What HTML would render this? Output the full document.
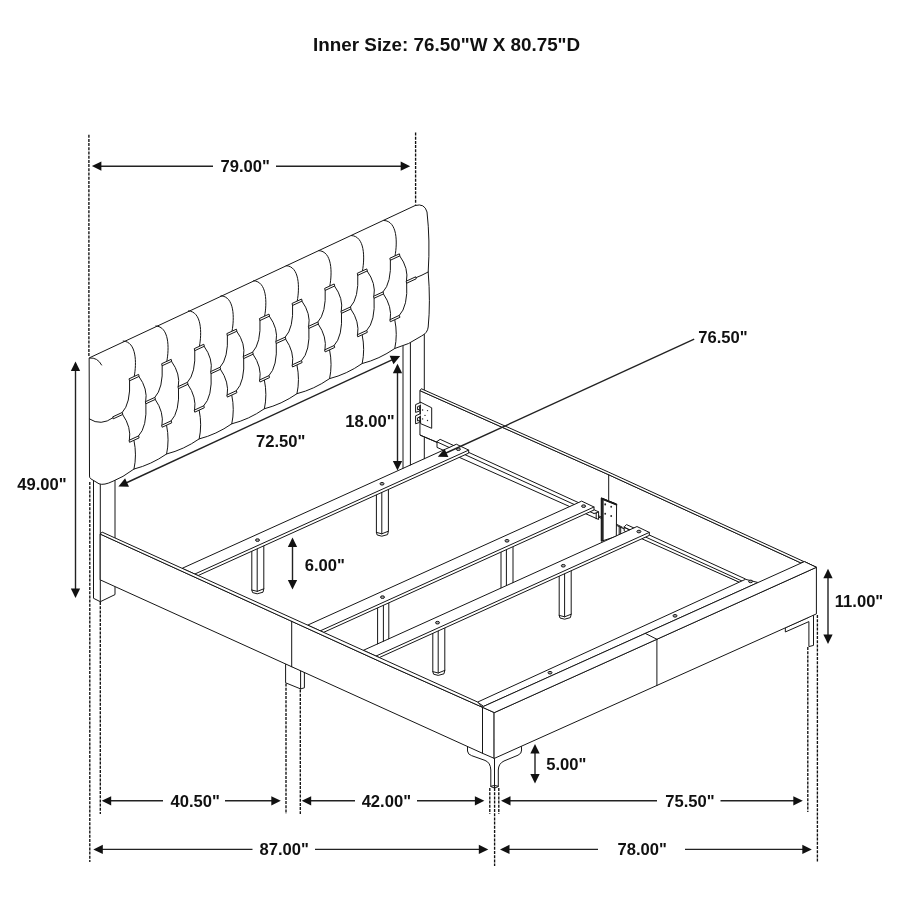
<!DOCTYPE html>
<html lang="en"><head><meta charset="utf-8"><title>Bed dimensions</title>
<style>html,body{margin:0;padding:0;background:#fff}body{width:900px;height:900px;overflow:hidden}svg{display:block;filter:grayscale(1)}text{font-family:"Liberation Sans",Arial,Helvetica,sans-serif;font-weight:700;fill:#111}</style></head><body>
<svg width="900" height="900" viewBox="0 0 900 900">
<rect width="900" height="900" fill="#fff"/>
<g stroke="#161616" stroke-width="1" stroke-linejoin="round" stroke-linecap="round">
<path d="M403 340 L403 470M410.4 338 L410.4 467M424.3 330 L424.3 460" fill="none"/>
<path d="M420.3 390.8 L608.7 474.75 L800.4 562.7 L800.4 590 L745.5 585.01 L440.5 444 L437 442.3 L420.3 435.2 Z" fill="#fff"/>
<path d="M421.7 388.9 L608.7 472.17 L816.4 567.3 L804.4 561.6 L800.4 562.7 L608.7 474.75 L420.3 390.8 Z" fill="#fff"/>
<path d="M608.7 474.75 L608.7 500" fill="none"/>
<path d="M440.5 439.5 L596.2 510.72 L598.6 511.82 L598.6 519.48 L437 447.4 L437 441.9 Z" fill="#fff"/>
<path d="M437 441.9 L593.9 513.46" fill="none"/>
<path d="M626.9 524.76 L745.5 579.01 L745.5 585.01 L624.2 530.9 L624.2 527.28 Z" fill="#fff"/>
<path d="M624.2 527.28 L742 581.01" fill="none"/>
<path d="M420.3 435.2 L437 442.3" fill="none"/>
<path d="M420.6 402.2 L431.7 407.8 L431.7 428.3 L421 423.8 Z" fill="#fff"/>
<path d="M420.6 402.4 L415.6 404.6 L415.6 412.4 L419.6 411 L419.6 409.2 L417.6 409.8 L417.6 406.6 L420.6 405.4" fill="#fff"/>
<path d="M420.6 413.6 L415.6 415.8 L415.6 423.8 L419.6 422.4 L419.6 420.4 L417.6 421 L417.6 417.8 L420.6 416.6" fill="#fff"/>
<path d="M251.8 544.53 L251.8 590 L252.6 592.6 L257.2 593.8 L263 592.2 L263.8 588.8 L263.8 544.53 Z" fill="#fff"/>
<path d="M257.2 544.53 L257.2 590.6M251.8 590 L257.2 591.4M257.2 591.4 L263.8 588.8" fill="none"/>
<path d="M376.4 488.15 L376.4 532.4 L377.2 535 L381.8 536.2 L387.6 534.6 L388.4 531.2 L388.4 488.15 Z" fill="#fff"/>
<path d="M381.8 488.15 L381.8 533M376.4 532.4 L381.8 533.8M381.8 533.8 L388.4 531.2" fill="none"/>
<path d="M456.7 444.4 L468.7 450.1 L468.7 453.1 L198.09 575.55 L194.77 574.05 L182.47 568.49 Z" fill="#fff"/>
<path d="M468.7 450.1 L194.77 574.05" fill="none"/>
<path d="M377.6 601.21 L377.6 648 L378.4 650.6 L383.4 651.8 L388 650.2 L388.8 646.8 L388.8 601.21 Z" fill="#fff"/>
<path d="M383.4 601.21 L383.4 648.6M377.6 648 L383.4 649.4M383.4 649.4 L388.8 646.8" fill="none"/>
<path d="M501 545.37 L501 591 L501.8 593.6 L506.4 594.8 L512.2 593.2 L513 589.8 L513 545.37 Z" fill="#fff"/>
<path d="M506.4 545.37 L506.4 591.6M501 591 L506.4 592.4M506.4 592.4 L513 589.8" fill="none"/>
<path d="M582 501.3 L594 507 L594 510 L323.61 632.35 L320.29 630.85 L308 625.29 Z" fill="#fff"/>
<path d="M594 507 L320.29 630.85" fill="none"/>
<path d="M602 498.3 L616.6 504.2 L616.3 536.4 L602 541 Z" fill="#fff"/>
<path d="M601.6 498.2 L603.1 498.8 L603.1 540.6 L601.6 541.1 Z" fill="#333"/>
<path d="M601.9 498.1 L616.7 504.1 L616.7 505.2 L601.9 499.2 Z" fill="#222"/>
<path d="M596.2 513.02 L598.6 511.82M596.2 513.02 L596.2 518.81M593.9 513.46 L596.2 513.02M598.6 515.8 L602 517.4" fill="none"/>
<path d="M616.4 524.2 L622.3 527.2M619.2 526.8 L619.2 534.6M620.7 527.4 L620.7 534M624.2 527.28 L629.4 529.88 L629.4 533.22" fill="none"/>
<path d="M432.8 626.65 L432.8 671.6 L433.6 674.2 L438.2 675.4 L444 673.8 L444.8 670.4 L444.8 626.65 Z" fill="#fff"/>
<path d="M438.2 626.65 L438.2 672.2M432.8 671.6 L438.2 673M438.2 673 L444.8 670.4" fill="none"/>
<path d="M559.2 569.46 L559.2 615.4 L560 618 L564.6 619.2 L570.4 617.6 L571.2 614.2 L571.2 569.46 Z" fill="#fff"/>
<path d="M564.6 569.46 L564.6 616M559.2 615.4 L564.6 616.8M564.6 616.8 L571.2 614.2" fill="none"/>
<path d="M637.3 526.7 L649.3 532.4 L649.3 535.4 L379.33 657.56 L376.01 656.06 L363.71 650.5 Z" fill="#fff"/>
<path d="M649.3 532.4 L376.01 656.06" fill="none"/>
<path d="M477.8 702 L745.5 579.3 L758 582.54 L484 706.2 Z" fill="#fff"/>
<path d="M93.5 470 L93.5 598.3 L100.3 601.7 L115 594.6 L115 470 Z" fill="#fff"/>
<path d="M100.3 470 L100.3 601.7" fill="none"/>
<path d="M285.6 663.98 L285.6 682.8 L300.6 688.9 L304.4 687.8 L304.4 672.51 Z" fill="#fff"/>
<path d="M300.6 670.79 L300.6 688.9" fill="none"/>
<path d="M467.5 740 L467.5 751 Q467.8 754.4 471.5 755.6 L485 760.4 Q490.6 762.6 490.8 770 L490.8 786.6 Q494.5 789.4 498.3 786.6 L498.3 770 Q498.5 763.5 504 761 L518 755.2 Q521.8 753.6 521.6 750 L521 740 Z" fill="#fff"/>
<path d="M494.5 758.4 L494.5 787.8M490.8 786.2 Q494.5 784.6 498.3 786.2" fill="none"/>
<path d="M785.7 627.6 L808.9 617.2 L808.9 616 L813.5 614.8 L813.5 645.4 L808.9 646.6 L808.9 621.6 L785.7 631.8 Z" fill="#fff"/>
<path d="M100.5 534.2 L390 666.1 L482.5 707.3 L494.3 712.6 L494.3 758.4 L482.5 753.3 L100.5 580 Z" fill="#fff"/>
<path d="M102.5 532.3 L477.6 702.03 L482.5 707.3 L390 666.1 L100.5 534.2 Z" fill="#fff"/>
<path d="M482.5 707.3 L482.5 753.3" fill="none"/>
<path d="M291.7 621.35 L291.7 666.75" fill="none"/>
<path d="M494.3 712.6 L816.4 567.3 L816.4 613.9 L494.3 758.4 Z" fill="#fff"/>
<path d="M484 706.2 L804.4 561.6 L816.4 567.3 L494.3 712.6 L482.5 707.3 Z" fill="#fff"/>
<path d="M645.3 633.4 L656.9 639.3M656.9 639.3 L656.9 685.54" fill="none"/>
<path d="M89.5 357.8 L415 205.6 Q424.5 202.8 427 212 Q430.2 240 428.2 272 Q430.6 302 428.2 327 Q427.6 333 421.5 336 Q409.15 344.73 394.8 348.46 Q379.3 359.2 362.2 363.53 Q346.7 374.27 329.6 378.6 Q314.1 389.34 297 393.67 Q281.5 404.41 264.4 408.74 Q248.9 419.48 231.8 423.81 Q216.3 434.55 199.2 438.89 Q183.7 449.62 166.6 453.96 Q151.1 464.69 134 469.03 Q122.5 477.6 113 481.2 Q104 485.6 99 483.8 L90.8 478.8 Q89.5 478 89.5 476.4 Z" fill="#fff"/>
<path d="M89.7 358 Q97.5 357.2 101.6 365" fill="none"/>
<path d="M134.3 376.03 C136.6 363.53 136.8 341.53 123.2 341.02" fill="none"/>
<path d="M129.6 380.65 Q130.75 403.55 122.3 412.44" fill="none"/>
<path d="M138.9 376.4 Q148.1 389.01 145.7 401.62" fill="none"/>
<path d="M166.9 360.96 C169.2 348.46 169.4 326.46 155.8 325.95" fill="none"/>
<path d="M162.2 365.58 Q163.35 388.47 154.9 397.37" fill="none"/>
<path d="M171.5 361.33 Q180.7 373.94 178.3 386.55" fill="none"/>
<path d="M199.5 345.89 C201.8 333.39 202 311.39 188.4 310.88" fill="none"/>
<path d="M194.8 350.51 Q195.95 373.4 187.5 382.29" fill="none"/>
<path d="M204.1 346.26 Q213.3 358.87 210.9 371.48" fill="none"/>
<path d="M232.1 330.81 C234.4 318.31 234.6 296.31 221 295.81" fill="none"/>
<path d="M227.4 335.44 Q228.55 358.33 220.1 367.22" fill="none"/>
<path d="M236.7 331.19 Q245.9 343.8 243.5 356.41" fill="none"/>
<path d="M264.7 315.74 C267 303.24 267.2 281.24 253.6 280.74" fill="none"/>
<path d="M260 320.37 Q261.15 343.26 252.7 352.15" fill="none"/>
<path d="M269.3 316.12 Q278.5 328.73 276.1 341.33" fill="none"/>
<path d="M297.3 300.67 C299.6 288.17 299.8 266.17 286.2 265.67" fill="none"/>
<path d="M292.6 305.3 Q293.75 328.19 285.3 337.08" fill="none"/>
<path d="M301.9 301.05 Q311.1 313.66 308.7 326.26" fill="none"/>
<path d="M329.9 285.6 C332.2 273.1 332.4 251.1 318.8 250.59" fill="none"/>
<path d="M325.2 290.23 Q326.35 313.12 317.9 322.01" fill="none"/>
<path d="M334.5 285.98 Q343.7 298.58 341.3 311.19" fill="none"/>
<path d="M362.5 270.53 C364.8 258.03 365 236.03 351.4 235.52" fill="none"/>
<path d="M357.8 275.16 Q358.95 298.05 350.5 306.94" fill="none"/>
<path d="M367.1 270.9 Q376.3 283.51 373.9 296.12" fill="none"/>
<path d="M395.1 255.46 C397.4 242.96 397.6 220.96 384 220.45" fill="none"/>
<path d="M390.4 260.09 Q391.55 282.98 383.1 291.87" fill="none"/>
<path d="M399.7 255.83 Q408.9 268.44 406.5 281.05" fill="none"/>
<path d="M122.6 414.44 Q131.6 427.3 129.4 440.15" fill="none"/>
<path d="M145.9 403.62 Q147.25 426.96 138.6 435.9" fill="none"/>
<path d="M134 440.53 Q137 455.03 134 469.03" fill="none"/>
<path d="M155.2 399.37 Q164.2 412.22 162 425.08" fill="none"/>
<path d="M178.5 388.55 Q179.85 411.89 171.2 420.83" fill="none"/>
<path d="M166.6 425.46 Q169.6 439.96 166.6 453.96" fill="none"/>
<path d="M187.8 384.29 Q196.8 397.15 194.6 410.01" fill="none"/>
<path d="M211.1 373.48 Q212.45 396.82 203.8 405.76" fill="none"/>
<path d="M199.2 410.39 Q202.2 424.89 199.2 438.89" fill="none"/>
<path d="M220.4 369.22 Q229.4 382.08 227.2 394.94" fill="none"/>
<path d="M243.7 358.41 Q245.05 381.75 236.4 390.69" fill="none"/>
<path d="M231.8 395.31 Q234.8 409.81 231.8 423.81" fill="none"/>
<path d="M253 354.15 Q262 367.01 259.8 379.87" fill="none"/>
<path d="M276.3 343.33 Q277.65 366.68 269 375.62" fill="none"/>
<path d="M264.4 380.24 Q267.4 394.74 264.4 408.74" fill="none"/>
<path d="M285.6 339.08 Q294.6 351.94 292.4 364.8" fill="none"/>
<path d="M308.9 328.26 Q310.25 351.61 301.6 360.55" fill="none"/>
<path d="M297 365.17 Q300 379.67 297 393.67" fill="none"/>
<path d="M318.2 324.01 Q327.2 336.87 325 349.73" fill="none"/>
<path d="M341.5 313.19 Q342.85 336.53 334.2 345.48" fill="none"/>
<path d="M329.6 350.1 Q332.6 364.6 329.6 378.6" fill="none"/>
<path d="M350.8 308.94 Q359.8 321.8 357.6 334.66" fill="none"/>
<path d="M374.1 298.12 Q375.45 321.46 366.8 330.4" fill="none"/>
<path d="M362.2 335.03 Q365.2 349.53 362.2 363.53" fill="none"/>
<path d="M383.4 293.87 Q392.4 306.73 390.2 319.59" fill="none"/>
<path d="M406.7 283.05 Q408.05 306.39 399.4 315.33" fill="none"/>
<path d="M394.8 319.96 Q397.8 334.46 394.8 348.46" fill="none"/>
<path d="M89.5 419 Q101 426.5 113.1 417.69" fill="none"/>
<path d="M415.7 277.8 Q422 275.4 428.2 272" fill="none"/>
<path d="M129.4 378.65 L138.6 374.4 L139.1 376.4 L129.9 380.65 Z" fill="#fff"/>
<path d="M162 363.58 L171.2 359.33 L171.7 361.33 L162.5 365.58 Z" fill="#fff"/>
<path d="M194.6 348.51 L203.8 344.26 L204.3 346.26 L195.1 350.51 Z" fill="#fff"/>
<path d="M227.2 333.44 L236.4 329.19 L236.9 331.19 L227.7 335.44 Z" fill="#fff"/>
<path d="M259.8 318.37 L269 314.12 L269.5 316.12 L260.3 320.37 Z" fill="#fff"/>
<path d="M292.4 303.3 L301.6 299.05 L302.1 301.05 L292.9 305.3 Z" fill="#fff"/>
<path d="M325 288.23 L334.2 283.98 L334.7 285.98 L325.5 290.23 Z" fill="#fff"/>
<path d="M357.6 273.16 L366.8 268.9 L367.3 270.9 L358.1 275.16 Z" fill="#fff"/>
<path d="M390.2 258.09 L399.4 253.83 L399.9 255.83 L390.7 260.09 Z" fill="#fff"/>
<path d="M113.1 416.69 L122.3 412.44 L122.8 414.44 L113.6 418.69 Z" fill="#fff"/>
<path d="M145.7 401.62 L154.9 397.37 L155.4 399.37 L146.2 403.62 Z" fill="#fff"/>
<path d="M178.3 386.55 L187.5 382.29 L188 384.29 L178.8 388.55 Z" fill="#fff"/>
<path d="M210.9 371.48 L220.1 367.22 L220.6 369.22 L211.4 373.48 Z" fill="#fff"/>
<path d="M243.5 356.41 L252.7 352.15 L253.2 354.15 L244 358.41 Z" fill="#fff"/>
<path d="M276.1 341.33 L285.3 337.08 L285.8 339.08 L276.6 343.33 Z" fill="#fff"/>
<path d="M308.7 326.26 L317.9 322.01 L318.4 324.01 L309.2 328.26 Z" fill="#fff"/>
<path d="M341.3 311.19 L350.5 306.94 L351 308.94 L341.8 313.19 Z" fill="#fff"/>
<path d="M373.9 296.12 L383.1 291.87 L383.6 293.87 L374.4 298.12 Z" fill="#fff"/>
<path d="M406.5 281.05 L415.7 276.8 L416.2 278.8 L407 283.05 Z" fill="#fff"/>
<path d="M129.4 440.15 L138.6 435.9 L139.1 437.9 L129.9 442.15 Z" fill="#fff"/>
<path d="M162 425.08 L171.2 420.83 L171.7 422.83 L162.5 427.08 Z" fill="#fff"/>
<path d="M194.6 410.01 L203.8 405.76 L204.3 407.76 L195.1 412.01 Z" fill="#fff"/>
<path d="M227.2 394.94 L236.4 390.69 L236.9 392.69 L227.7 396.94 Z" fill="#fff"/>
<path d="M259.8 379.87 L269 375.62 L269.5 377.62 L260.3 381.87 Z" fill="#fff"/>
<path d="M292.4 364.8 L301.6 360.55 L302.1 362.55 L292.9 366.8 Z" fill="#fff"/>
<path d="M325 349.73 L334.2 345.48 L334.7 347.48 L325.5 351.73 Z" fill="#fff"/>
<path d="M357.6 334.66 L366.8 330.4 L367.3 332.4 L358.1 336.66 Z" fill="#fff"/>
<path d="M390.2 319.59 L399.4 315.33 L399.9 317.33 L390.7 321.59 Z" fill="#fff"/>
</g>
<g stroke="#161616" stroke-width="1" fill="#fff">
<circle cx="422.6" cy="410" r="0.7" fill="#222" stroke="none"/>
<circle cx="427.5" cy="410.6" r="0.7" fill="#222" stroke="none"/>
<circle cx="425" cy="415.4" r="0.7" fill="#222" stroke="none"/>
<circle cx="422.6" cy="418.9" r="0.7" fill="#222" stroke="none"/>
<circle cx="427.5" cy="420.5" r="0.7" fill="#222" stroke="none"/>
<ellipse cx="420" cy="407.6" rx="0.9" ry="1.3" fill="#222" stroke="none"/>
<ellipse cx="420" cy="417.6" rx="0.9" ry="1.3" fill="#222" stroke="none"/>
<ellipse cx="257.5" cy="540.1" rx="2" ry="1.3" fill="#aaa"/>
<ellipse cx="382" cy="483.77" rx="2" ry="1.3" fill="#aaa"/>
<ellipse cx="458.4" cy="449.2" rx="2" ry="1.3" fill="#aaa"/>
<ellipse cx="382.5" cy="597.14" rx="2" ry="1.3" fill="#aaa"/>
<ellipse cx="507" cy="540.8" rx="2" ry="1.3" fill="#aaa"/>
<ellipse cx="583.6" cy="506.14" rx="2" ry="1.3" fill="#aaa"/>
<ellipse cx="605.2" cy="504.4" rx="0.9" ry="1.05" fill="#222" stroke="none"/>
<ellipse cx="611.2" cy="506.8" rx="0.9" ry="1.05" fill="#222" stroke="none"/>
<ellipse cx="605.2" cy="513.7" rx="0.9" ry="1.05" fill="#222" stroke="none"/>
<ellipse cx="611.2" cy="516" rx="0.9" ry="1.05" fill="#222" stroke="none"/>
<ellipse cx="437.5" cy="622.67" rx="2" ry="1.3" fill="#aaa"/>
<ellipse cx="563.3" cy="565.75" rx="2" ry="1.3" fill="#aaa"/>
<ellipse cx="638.9" cy="531.54" rx="2" ry="1.3" fill="#aaa"/>
<ellipse cx="550" cy="672.7" rx="2" ry="1.3" fill="#aaa"/>
<ellipse cx="675" cy="615.83" rx="2" ry="1.3" fill="#aaa"/>
<ellipse cx="750.6" cy="581.43" rx="2" ry="1.3" fill="#aaa"/>
</g>
<g stroke="#111" stroke-width="1.35" fill="none" stroke-dasharray="3 1.2">
<path d="M88.9 134.7 L88.9 357"/>
<path d="M415.6 132.5 L415.6 204.5"/>
<path d="M89.8 482 L89.8 862"/>
<path d="M100.3 602 L100.3 814"/>
<path d="M286 683.5 L286 814"/>
<path d="M300.3 689.5 L300.3 814"/>
<path d="M489.8 788 L489.8 814"/>
<path d="M494.6 788 L494.6 866"/>
<path d="M498.8 788 L498.8 814"/>
<path d="M807.8 647 L807.8 812"/>
<path d="M817.4 615 L817.4 862"/>
</g>
<g stroke="#222" stroke-width="1.4" fill="none">
<path d="M100 166.2 L213 166.2"/>
<path d="M276 166.2 L402 166.2"/>
<path d="M75.5 370 L75.5 590"/>
<path d="M126 483 L392 359.8"/>
<path d="M397.5 372 L397.5 462"/>
<path d="M446 453 L694.2 339.2"/>
<path d="M292.5 545 L292.5 580"/>
<path d="M828 577 L828 636"/>
<path d="M535 752 L535 775"/>
<path d="M110 800.8 L163 800.8"/>
<path d="M225 800.8 L273 800.8"/>
<path d="M310 800.8 L355 800.8"/>
<path d="M417 800.8 L476 800.8"/>
<path d="M509 800.8 L657 800.8"/>
<path d="M720.5 800.8 L795 800.8"/>
<path d="M101 849.4 L252.5 849.4"/>
<path d="M315 849.4 L480 849.4"/>
<path d="M508 849.4 L598 849.4"/>
<path d="M685 849.4 L804 849.4"/>
</g>
<g stroke="#1a1a1a" stroke-width="1.1" fill="none">
</g>
<g fill="#111" stroke="none">
<polygon points="91.9,166.1 101.4,161.45 101.4,170.75"/>
<polygon points="410.2,166.2 400.7,170.85 400.7,161.55"/>
<polygon points="75.5,361.5 80.15,371 70.85,371"/>
<polygon points="75.5,598 70.85,588.5 80.15,588.5"/>
<polygon points="118.4,486.5 125.09,478.31 128.97,486.75"/>
<polygon points="400.2,356 393.51,364.19 389.63,355.75"/>
<polygon points="397.5,363.7 402.15,373.2 392.85,373.2"/>
<polygon points="397.5,470.5 392.85,461 402.15,461"/>
<polygon points="437.8,456.8 444.51,448.63 448.37,457.09"/>
<polygon points="292.5,537.5 297.15,547 287.85,547"/>
<polygon points="292.5,589.5 287.85,580 297.15,580"/>
<polygon points="828,568.7 832.65,578.2 823.35,578.2"/>
<polygon points="828,644 823.35,634.5 832.65,634.5"/>
<polygon points="535,744 539.65,753.5 530.35,753.5"/>
<polygon points="535,783.5 530.35,774 539.65,774"/>
<polygon points="101.7,800.8 111.2,796.15 111.2,805.45"/>
<polygon points="280.8,800.8 271.3,805.45 271.3,796.15"/>
<polygon points="301.7,800.8 311.2,796.15 311.2,805.45"/>
<polygon points="484.4,800.8 474.9,805.45 474.9,796.15"/>
<polygon points="501,800.8 510.5,796.15 510.5,805.45"/>
<polygon points="802.8,800.8 793.3,805.45 793.3,796.15"/>
<polygon points="93.3,849.4 102.8,844.75 102.8,854.05"/>
<polygon points="488.3,849.4 478.8,854.05 478.8,844.75"/>
<polygon points="500,849.4 509.5,844.75 509.5,854.05"/>
<polygon points="811.8,849.4 802.3,854.05 802.3,844.75"/>
</g>
<g>
<text x="446.6" y="50.7" font-size="18.85" text-anchor="middle">Inner Size: 76.50"W X 80.75"D</text>
<text x="245.25" y="171.75" font-size="16.6" text-anchor="middle">79.00"</text>
<text x="41.9" y="490.3" font-size="16.6" text-anchor="middle">49.00"</text>
<text x="280.7" y="446.7" font-size="16.6" text-anchor="middle">72.50"</text>
<text x="370" y="426.7" font-size="16.6" text-anchor="middle">18.00"</text>
<text x="722.9" y="343.3" font-size="16.6" text-anchor="middle">76.50"</text>
<text x="324.8" y="570.8" font-size="16.6" text-anchor="middle">6.00"</text>
<text x="859" y="607.2" font-size="16.6" text-anchor="middle">11.00"</text>
<text x="566.3" y="770.2" font-size="16.6" text-anchor="middle">5.00"</text>
<text x="195.15" y="806.7" font-size="16.6" text-anchor="middle">40.50"</text>
<text x="386.35" y="806.7" font-size="16.6" text-anchor="middle">42.00"</text>
<text x="690" y="806.7" font-size="16.6" text-anchor="middle">75.50"</text>
<text x="284.15" y="855" font-size="16.6" text-anchor="middle">87.00"</text>
<text x="642.15" y="855" font-size="16.6" text-anchor="middle">78.00"</text>
</g>
</svg></body></html>
